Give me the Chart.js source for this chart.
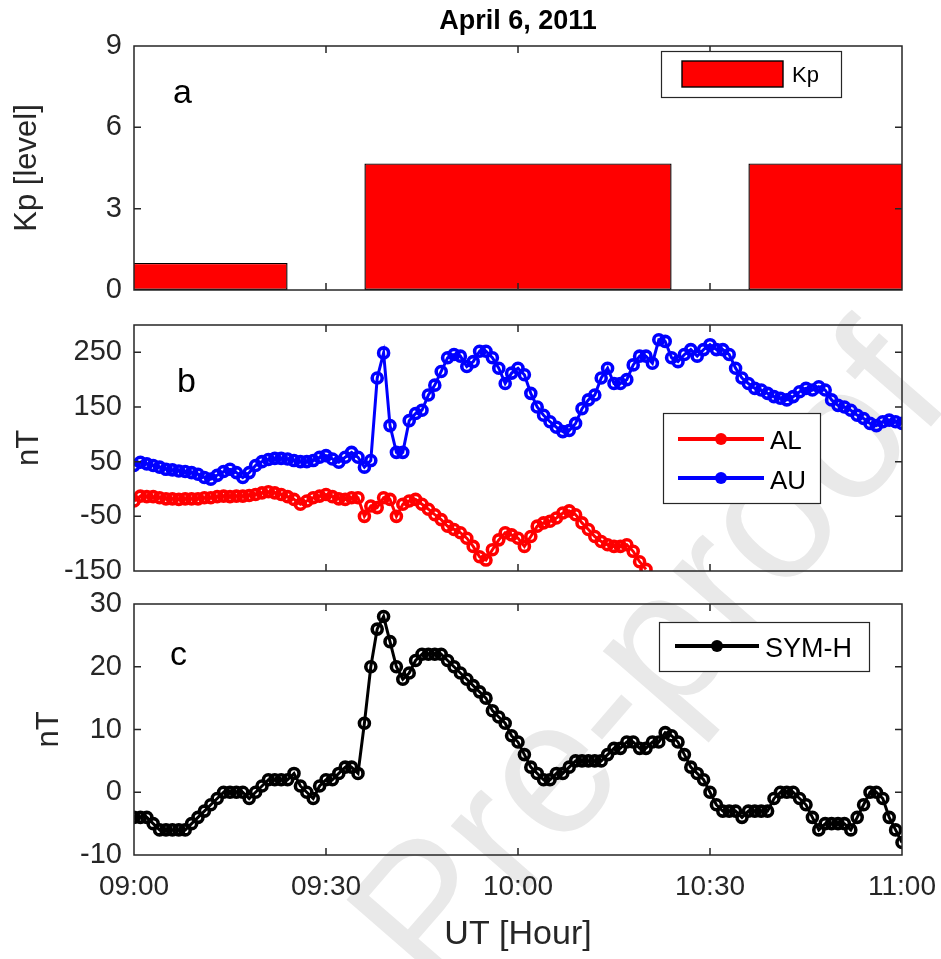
<!DOCTYPE html>
<html><head><meta charset="utf-8">
<script src="https://cdn.jsdelivr.net/npm/chart.js@4"></script>
<style>
html,body{margin:0;padding:0;background:#fff;}
#wrap{position:relative;width:941px;height:959px;overflow:hidden;background:#fff;}
#wm{position:absolute;left:645px;top:655px;transform:translate(-50%,-50%) rotate(-49deg);font-family:'Liberation Sans',Arial,sans-serif;font-size:190px;color:#e9e9e9;white-space:nowrap;line-height:1;}
canvas{position:absolute;left:0;}
</style></head><body>
<div id="wrap">
<div id="wm">Pre-proof</div>
<canvas id="ca" width="941" height="300" style="top:0px;width:941px;height:300px"></canvas>
<canvas id="cb" width="941" height="280" style="top:300px;width:941px;height:280px"></canvas>
<canvas id="cc" width="941" height="379" style="top:580px;width:941px;height:379px"></canvas>
</div>
<script>
// ---------- data (x = minutes after 09:00 UT, one value per minute) ----------
const chartTitle = 'April 6, 2011';
const xTickValues = [0, 30, 60, 90, 120];
const xTickLabels = ['09:00', '09:30', '10:00', '10:30', '11:00'];
const xTitle = 'UT [Hour]';

const kpTimes = [0, 60, 120];
const kpValues = [1, 4.67, 4.67];
const kpTicks = [0, 3, 6, 9];

const auValues = [43,49,46,43,40,36,35,33,32,30,27,21,18,25,32,36,30,21,30,43,
  50,54,56,56,55,52,50,50,52,58,61,55,49,58,67,58,40,52,203,249,
  116,67,67,125,138,144,172,190,215,240,246,243,224,233,252,252,240,221,193,212,
  221,209,175,150,135,123,113,105,107,120,147,163,172,203,221,193,193,200,227,243,
  243,230,273,270,240,233,246,255,243,255,264,255,255,246,221,203,193,184,181,175,
  169,166,163,169,178,184,181,187,181,163,153,150,144,135,129,120,116,123,126,123,120];
const alValues = [-22,-13,-14,-14,-16,-18,-18,-19,-18,-18,-18,-16,-16,-14,-13,-14,-13,-13,-12,-10,
  -7,-5,-7,-10,-14,-19,-28,-22,-16,-13,-10,-14,-18,-19,-16,-16,-50,-31,-34,-16,
  -19,-50,-28,-22,-19,-28,-37,-47,-56,-68,-74,-80,-90,-105,-124,-130,-111,-93,-80,-84,
  -90,-105,-87,-68,-62,-59,-53,-44,-40,-47,-62,-74,-87,-96,-102,-105,-105,-102,-114,-133,-147];
const abTicks = [-150, -50, 50, 150, 250];

const symhValues = [-4,-4,-4,-5,-6,-6,-6,-6,-6,-5,-4,-3,-2,-1,0,0,0,0,-1,0,
  1,2,2,2,2,3,1,0,-1,1,2,2,3,4,4,3,11,20,26,28,
  24,20,18,19,21,22,22,22,22,21,20,19,18,17,16,15,13,12,11,9,
  8,6,4,3,2,2,3,3,4,5,5,5,5,5,6,7,7,8,8,7,
  7,8,8,9.5,9,8,6,4,3,2,0,-2,-3,-3,-3,-4,-3,-3,-3,-3,
  -1,0,0,0,-1,-2,-4,-6,-5,-5,-5,-5,-6,-4,-2,0,0,-1,-4,-6,-8];
const symTicks = [-10, 0, 10, 20, 30];

// ---------- styling ----------
const FONT = "'Liberation Sans', Arial, Helvetica, sans-serif";
const AXC = '#262626';

const framePlugin = {
  id: 'frame',
  afterDraw(chart, args, o) {
    const {ctx, chartArea: a} = chart;
    const xs = chart.scales.x, ys = chart.scales.y;
    ctx.save();
    ctx.strokeStyle = AXC; ctx.lineWidth = 1.5;
    ctx.beginPath();
    for (const v of xTickValues) {
      const px = xs.getPixelForValue(v);
      if (px > a.left + 2 && px < a.right - 2) {
        ctx.moveTo(px, a.bottom); ctx.lineTo(px, a.bottom - 7);
        ctx.moveTo(px, a.top); ctx.lineTo(px, a.top + 7);
      }
    }
    for (const v of o.yTicks) {
      const py = ys.getPixelForValue(v);
      if (py > a.top + 2 && py < a.bottom - 2) {
        ctx.moveTo(a.left, py); ctx.lineTo(a.left + 7, py);
        ctx.moveTo(a.right, py); ctx.lineTo(a.right - 7, py);
      }
    }
    ctx.stroke();
    ctx.strokeRect(a.left, a.top, a.right - a.left, a.bottom - a.top);

    // panel letter
    ctx.fillStyle = '#000';
    ctx.font = `34px ${FONT}`;
    ctx.textAlign = 'left'; ctx.textBaseline = 'alphabetic';
    ctx.fillText(o.letter, o.letterX, o.letterY);

    if (o.title) {
      ctx.font = `bold 27px ${FONT}`;
      ctx.textAlign = 'center';
      ctx.fillText(o.title, (a.left + a.right) / 2, 29);
    }

    // legend
    const L = o.legend;
    ctx.fillStyle = '#fff';
    ctx.fillRect(L.x, L.y, L.w, L.h);
    ctx.lineWidth = 1.2; ctx.strokeStyle = AXC;
    ctx.strokeRect(L.x + 0.5, L.y + 0.5, L.w, L.h);
    for (const it of L.items) {
      const ds = chart.data.datasets[it.ds];
      if (it.kind === 'bar') {
        ctx.fillStyle = ds.backgroundColor;
        ctx.fillRect(it.x1, it.cy - 13, it.x2 - it.x1, 26);
        ctx.lineWidth = 1.4; ctx.strokeStyle = ds.borderColor;
        ctx.strokeRect(it.x1, it.cy - 13, it.x2 - it.x1, 26);
      } else {
        ctx.strokeStyle = ds.borderColor; ctx.lineWidth = 4;
        ctx.beginPath(); ctx.moveTo(it.x1, it.cy); ctx.lineTo(it.x2, it.cy); ctx.stroke();
        ctx.fillStyle = ds.borderColor;
        ctx.beginPath(); ctx.arc((it.x1 + it.x2) / 2, it.cy, 6, 0, Math.PI * 2); ctx.fill();
      }
      ctx.fillStyle = '#000';
      ctx.font = `${it.fs}px ${FONT}`;
      ctx.textAlign = 'left'; ctx.textBaseline = 'middle';
      ctx.fillText(ds.label, it.tx, it.ty);
    }
    ctx.restore();
  }
};

function scales(yMin, yMax, yTicks, yTitle, yTitlePad, showX, xTickSet) {
  return {
    x: {
      type: 'linear', min: 0, max: 120, offset: false, display: showX,
      grid: {display: false, drawTicks: false}, border: {display: false},
      afterBuildTicks: s => { s.ticks = xTickSet.map(v => ({value: v})); },
      ticks: {padding: 15, color: AXC, font: {family: FONT, size: 28}, maxRotation: 0, autoSkip: false,
        callback: v => xTickLabels[xTickValues.indexOf(v)]},
      title: {display: showX, text: xTitle, color: AXC, font: {family: FONT, size: 34}, padding: {top: 0, bottom: 4}},
      afterFit: s => { if (showX) s.height = 104; s.paddingLeft = 0; s.paddingRight = 0; }
    },
    y: {
      type: 'linear', min: yMin, max: yMax,
      grid: {display: false, drawTicks: false}, border: {display: false},
      afterBuildTicks: s => { s.ticks = yTicks.map(v => ({value: v})); },
      ticks: {padding: 12, color: AXC, font: {family: FONT, size: 29}},
      title: {display: true, text: yTitle, color: AXC, font: {family: FONT, size: 31}, padding: {top: yTitlePad, bottom: 0}},
      afterFit: s => { s.width = 134; s.paddingTop = 0; s.paddingBottom = 0; }
    }
  };
}

const common = {
  responsive: false, animation: false, devicePixelRatio: 1,
};

function lineDs(label, values, color) {
  return {
    label, data: values.map((v, i) => ({x: i, y: v})),
    borderColor: color, backgroundColor: color, borderWidth: 3,
    pointRadius: 5, pointBorderWidth: 3.6, pointBackgroundColor: 'rgba(0,0,0,0)',
    pointBorderColor: color, tension: 0
  };
}

// Panel a
new Chart(document.getElementById('ca'), {
  type: 'bar',
  data: {datasets: [{
    label: 'Kp', data: kpTimes.map((t, i) => ({x: t, y: kpValues[i]})),
    backgroundColor: '#ff0000', borderColor: '#000000', borderWidth: 1.4, borderSkipped: false,
    barPercentage: 0.8, categoryPercentage: 1
  }]},
  options: Object.assign({}, common, {
    layout: {padding: {top: 46, bottom: 10, left: 0, right: 39}},
    scales: scales(0, 9, kpTicks, 'Kp [level]', 9, false, kpTimes),
    plugins: {legend: {display: false}, tooltip: {enabled: false},
      frame: {yTicks: kpTicks, letter: 'a', letterX: 173, letterY: 103, title: chartTitle,
        legend: {x: 661, y: 51, w: 180, h: 46, items: [
          {ds: 0, kind: 'bar', x1: 682, x2: 783, cy: 74, tx: 792, ty: 76, fs: 22}]}}}
  }),
  plugins: [framePlugin]
});

// Panel b
new Chart(document.getElementById('cb'), {
  type: 'line',
  data: {datasets: [lineDs('AL', alValues, '#ff0000'), lineDs('AU', auValues, '#0000ff')]},
  options: Object.assign({}, common, {
    layout: {padding: {top: 25, bottom: 9, left: 0, right: 39}},
    scales: scales(-150, 300, abTicks, 'nT', 11, false, xTickValues),
    plugins: {legend: {display: false}, tooltip: {enabled: false},
      frame: {yTicks: abTicks, letter: 'b', letterX: 177, letterY: 92,
        legend: {x: 663, y: 113, w: 157, h: 90, items: [
          {ds: 0, kind: 'line', x1: 678, x2: 764, cy: 139, tx: 770, ty: 142, fs: 26},
          {ds: 1, kind: 'line', x1: 678, x2: 764, cy: 178, tx: 770, ty: 182, fs: 26}]}}}
  }),
  plugins: [framePlugin]
});

// Panel c
new Chart(document.getElementById('cc'), {
  type: 'line',
  data: {datasets: [lineDs('SYM-H', symhValues, '#000000')]},
  options: Object.assign({}, common, {
    layout: {padding: {top: 24, bottom: 0, left: 0, right: 39}},
    scales: scales(-10, 30, symTicks, 'nT', 31, true, xTickValues),
    plugins: {legend: {display: false}, tooltip: {enabled: false},
      frame: {yTicks: symTicks, letter: 'c', letterX: 170, letterY: 85,
        legend: {x: 659, y: 42, w: 210, h: 49, items: [
          {ds: 0, kind: 'line', x1: 675, x2: 759, cy: 66, tx: 765, ty: 70, fs: 27}]}}}
  }),
  plugins: [framePlugin]
});
</script>
</body></html>
